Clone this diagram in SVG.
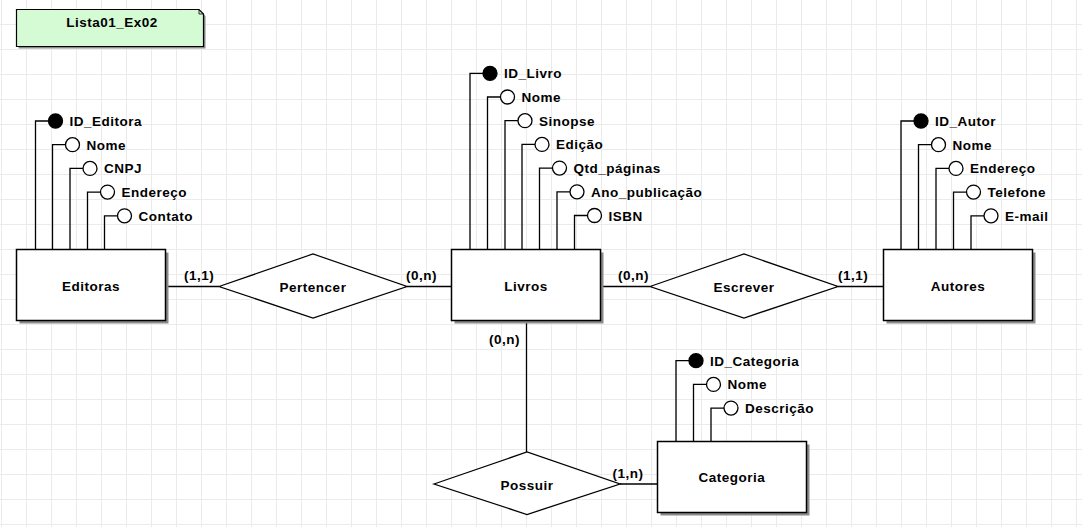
<svg xmlns="http://www.w3.org/2000/svg" width="1082" height="527" viewBox="0 0 1082 527">
<style>
text{font-family:"Liberation Sans",Arial,sans-serif;font-weight:bold;font-size:13.5px;letter-spacing:0.5px;fill:#000}
.c{text-anchor:middle}
.ent{fill:#fff;stroke:#000;stroke-width:1.5}
.sh{fill:#8a8a8a}
.rel{fill:#fff;stroke:#000;stroke-width:1.3}
.ln{fill:none;stroke:#000;stroke-width:1.3}
.pk{fill:#000;stroke:#000;stroke-width:1.3}
.at{fill:#fff;stroke:#000;stroke-width:1.3}
</style>
<defs>
<pattern id="grid" width="25" height="25" patternUnits="userSpaceOnUse" x="1" y="24">
<path d="M0 0.5H25M0.5 0V25" fill="none" stroke="#ebebeb" stroke-width="1"/>
</pattern>
</defs>
<rect width="1082" height="527" fill="#fff"/>
<rect width="1082" height="527" fill="url(#grid)"/>

<g id="title">
<path d="M18.5 11.5H201L205.5 16V48.5H18.5Z" class="sh"/>
<path d="M16.5 9.5H199L203.5 14V46.5H16.5Z" fill="#d5fbd5" stroke="#000" stroke-width="1.2"/>
<path d="M199 9.5V14H203.5" fill="none" stroke="#000" stroke-width="0.8"/>
<text x="112" y="26.5" class="c">Lista01_Ex02</text>
</g>

<g id="connectors">
<path class="ln" d="M165.5 286.5H219"/>
<path class="ln" d="M407 286.5H451.5"/>
<path class="ln" d="M600.5 286.5H650"/>
<path class="ln" d="M838 286.5H883.5"/>
<path class="ln" d="M526.5 320.5V452"/>
<path class="ln" d="M620 484H657.5"/>
<text x="184" y="280">(1,1)</text>
<text x="406" y="280">(0,n)</text>
<text x="618" y="280">(0,n)</text>
<text x="838" y="280">(1,1)</text>
<text x="489" y="343.5">(0,n)</text>
<text x="612.5" y="478">(1,n)</text>
</g>

<g id="Editoras">
<path class="ln" d="M35.5 249.5V121H48M52.5 249.5V144.7H65.5M70 249.5V168.4H83M87.5 249.5V192.1H100.5M104.5 249.5V215.8H117.5"/>
<circle class="pk" cx="55.5" cy="121" r="7"/>
<circle class="at" cx="72.5" cy="144.7" r="7"/>
<circle class="at" cx="90" cy="168.4" r="7"/>
<circle class="at" cx="107.5" cy="192.1" r="7"/>
<circle class="at" cx="124.5" cy="215.8" r="7"/>
<text x="69.5" y="126">ID_Editora</text>
<text x="86.5" y="149.7">Nome</text>
<text x="104" y="173.4">CNPJ</text>
<text x="121.5" y="197.1">Endereço</text>
<text x="138.5" y="220.8">Contato</text>
<rect class="sh" x="19.5" y="252.5" width="149" height="71"/>
<rect class="ent" x="16.5" y="249.5" width="149" height="71"/>
<text x="91" y="290.5" class="c">Editoras</text>
</g>

<g id="Pertencer">
<polygon class="rel" points="219,286.5 313,254 407,286.5 313,318"/>
<text x="313" y="292" class="c">Pertencer</text>
</g>

<g id="Livros">
<path class="ln" d="M470 249.5V73.3H483M487.5 249.5V97H500.5M505 249.5V120.7H518M522 249.5V144.4H535M539.5 249.5V168.1H552.5M557 249.5V191.8H570M574.5 249.5V215.5H587.5"/>
<circle class="pk" cx="490" cy="73.3" r="7"/>
<circle class="at" cx="507.5" cy="97" r="7"/>
<circle class="at" cx="525" cy="120.7" r="7"/>
<circle class="at" cx="542" cy="144.4" r="7"/>
<circle class="at" cx="559.5" cy="168.1" r="7"/>
<circle class="at" cx="577" cy="191.8" r="7"/>
<circle class="at" cx="594.5" cy="215.5" r="7"/>
<text x="504" y="78.3">ID_Livro</text>
<text x="521.5" y="102">Nome</text>
<text x="539" y="125.7">Sinopse</text>
<text x="556" y="149.4">Edição</text>
<text x="573.5" y="173.1">Qtd_páginas</text>
<text x="591" y="196.8">Ano_publicação</text>
<text x="608.5" y="220.5">ISBN</text>
<rect class="sh" x="454.5" y="252.5" width="149" height="71"/>
<rect class="ent" x="451.5" y="249.5" width="149" height="71"/>
<text x="526" y="291" class="c">Livros</text>
</g>

<g id="Escrever">
<polygon class="rel" points="650,286.5 744,254 838,286.5 744,318"/>
<text x="744" y="292" class="c">Escrever</text>
</g>

<g id="Autores">
<path class="ln" d="M901 249.5V121H914M918.5 249.5V144.7H931.5M936 249.5V168.4H949M953.5 249.5V192.1H966.5M971 249.5V215.8H984"/>
<circle class="pk" cx="921" cy="121" r="7"/>
<circle class="at" cx="938.5" cy="144.7" r="7"/>
<circle class="at" cx="956" cy="168.4" r="7"/>
<circle class="at" cx="973.5" cy="192.1" r="7"/>
<circle class="at" cx="991" cy="215.8" r="7"/>
<text x="935" y="126">ID_Autor</text>
<text x="952.5" y="149.7">Nome</text>
<text x="970" y="173.4">Endereço</text>
<text x="987.5" y="197.1">Telefone</text>
<text x="1005" y="220.8">E-mail</text>
<rect class="sh" x="886.5" y="252.5" width="149" height="71"/>
<rect class="ent" x="883.5" y="249.5" width="149" height="71"/>
<text x="958" y="291" class="c">Autores</text>
</g>

<g id="Possuir">
<polygon class="rel" points="434,484 527,452 620,484 527,514.5"/>
<text x="527" y="489.5" class="c">Possuir</text>
</g>

<g id="Categoria">
<path class="ln" d="M676 441.5V360.7H689M693.5 441.5V384.4H706.5M711 441.5V408.1H724"/>
<circle class="pk" cx="696" cy="360.7" r="7"/>
<circle class="at" cx="713.5" cy="384.4" r="7"/>
<circle class="at" cx="731" cy="408.1" r="7"/>
<text x="710" y="365.7">ID_Categoria</text>
<text x="727.5" y="389.4">Nome</text>
<text x="745" y="413.1">Descrição</text>
<rect class="sh" x="660.5" y="444.5" width="149" height="71"/>
<rect class="ent" x="657.5" y="441.5" width="149" height="71"/>
<text x="732" y="481.5" class="c">Categoria</text>
</g>
</svg>
